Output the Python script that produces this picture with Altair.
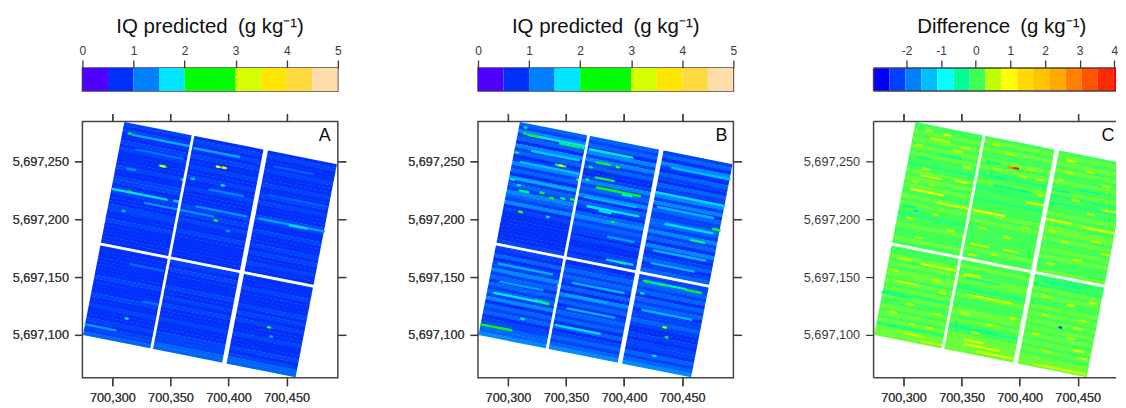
import altair as alt
import pandas as pd

FONT = "Liberation Sans"
INK = "#3a3a3a"
FRAME = "#444444"

x_ticks = [700300, 700350, 700400, 700450]
y_ticks = [5697100, 5697150, 5697200, 5697250]
x_domain = [700274.2, 700494.1]
x_domain_cut = [700274.2, 700482.96]
y_domain = [5697062.8, 5697285.0]

# field frame (metres): north-west corner, "along" and "across" vectors
corner = (700310.3, 5697284.4)
along = (183.0, -36.6)
across = (-35.6, -184.4)

iq_breaks = [0, 0.5, 1, 1.5, 2, 3, 3.5, 4, 4.5, 5]
iq_mids = [0.25, 0.75, 1.25, 1.75, 2.5, 3.25, 3.75, 4.25, 4.75]
iq_colors = ["#5000FF", "#0030FA", "#0080FF", "#00E5FF", "#00FF00", "#D4FF00", "#FFE500", "#FFD940", "#FFDDAA"]
iq_ticks = [0, 1, 2, 3, 4, 5]

diff_breaks = [-2.95, -2.49, -2.03, -1.57, -1.11, -0.64, -0.18, 0.28, 0.74, 1.20, 1.66, 2.12, 2.59, 3.05, 3.51, 3.97, 4.43]
diff_mids = [-2.72, -2.26, -1.80, -1.34, -0.88, -0.41, 0.05, 0.51, 0.97, 1.43, 1.89, 2.35, 2.82, 3.28, 3.74, 4.20]
diff_colors = ["#0000FF", "#0040FF", "#0080FF", "#00BFFF", "#00FFFF", "#00FF99", "#40FF55", "#BFFF00",
               "#FFFF00", "#FFD900", "#FFC400", "#FFAA00", "#FF8000", "#FF5500", "#FF2A00", "#FF0000"]
diff_ticks = [-2, -1, 0, 1, 2, 3, 4]
diff_end = 4.05

# band levels per row (top to bottom) for the three columns of plots
bands_a = [
    "4343343433" "3343344334" "3334433433" "3333333333" "3334333343" "3433343445",
    "3434343343" "3433433334" "3434334333" "3333343433" "3343343433" "3433344455",
    "3433343334" "3343433344" "3343334343" "3433433343" "3334343433" "3433343455",
]
bands_b = [
    "5464536453" "4645364546" "5463433333" "3334343534" "4645354546" "3545344556",
    "5453646453" "3464546354" "3564544343" "3434334545" "4353645345" "4535345456",
    "4536435435" "4364635445" "5464536434" "5345444545" "3545344543" "3434435456",
]
bands_c = [
    "2232323232" "2123232322" "3232212232" "2232222323" "2332323132" "2323231333",
    "2323223232" "1232122122" "2323222222" "2322323223" "3212322233" "2321233333",
    "2323232232" "2312122323" "2332322323" "2223212132" "3223232323" "2323232333",
]
# value of each band level
iq_levels = [0.5, 0.6, 0.7, 0.75, 0.88, 1.08, 1.3]
diff_levels = [-0.25, -0.12, 0.05, 0.2, 0.35]

# streaks: start, end (percent along), position (percent across), value
streaks_a = [
    (5, 31.6, 5, 1.5), (34, 55, 5.5, 1.45), (7.8, 29.6, 11.3, 1.15), (72, 90, 6.6, 1.05),
    (0.8, 26, 31.3, 1.7), (16.4, 48.5, 34.7, 1.35), (29.5, 32, 31.1, 1.6), (40, 63.5, 31.7, 1.35),
    (44.5, 60.2, 22.8, 1.25), (69.7, 100, 31.5, 1.4), (84, 92, 31.8, 1.7), (5.5, 9, 20.8, 1.35),
    (15.3, 30.8, 63.8, 1.1), (24.5, 31, 79.5, 1.15), (0.3, 14.4, 95, 1.4), (72, 98, 20, 1.05),
    (3, 3.9, 4.7, 2.5), (19.9, 22.6, 16.5, 2.6), (20.6, 21.8, 16.5, 3.3), (45.8, 47.2, 11.8, 3.3),
    (48.5, 50, 11.7, 3.7), (31.1, 32, 20.8, 2.4), (49.7, 50.7, 19.8, 1.8), (49.5, 50.6, 36.3, 2.4),
    (35.5, 36.5, 19.5, 1.6), (8.1, 9.1, 31, 2.3), (17.9, 18.8, 88.7, 1.7), (83.1, 84.1, 79.9, 2.7),
    (85, 85.8, 83.9, 1.5), (7, 8, 40.3, 1.5), (56, 57, 40, 1.4),
]
streaks_b = [
    (5, 31.6, 5, 1.8), (5, 9.5, 5, 2.4), (20, 31, 6, 2.2), (2.9, 3.8, 4.7, 2.5), (2.6, 3.3, 2, 2.0),
    (34, 54, 6, 1.9), (38.3, 44.5, 11.3, 2.35), (47.8, 48.8, 11.6, 2.7), (20, 24.5, 16, 2.1),
    (21.8, 23.1, 16, 3.5), (39.2, 47.6, 18.2, 2.25), (40.6, 61, 22.7, 2.5), (35.6, 36.6, 14, 2.2),
    (35.2, 36.1, 20, 2.3), (31.1, 32, 20.8, 2.8), (0.9, 1.9, 14.1, 2.2), (1, 2.4, 26.6, 2),
    (4.5, 5.6, 28.6, 2.0), (6, 10, 31, 2.2), (15.5, 17, 30, 2.4), (20.4, 21.7, 31.6, 2.5),
    (30, 31.6, 30.3, 2.6), (25.5, 27, 30.7, 2.0), (7.6, 8.8, 40.6, 2.7), (20.6, 21.4, 40.4, 1.8),
    (50.4, 51.4, 36.8, 2.4), (97, 100, 31, 2.4), (88, 94, 38, 2.1), (68, 100, 19.5, 1.7),
    (75, 97, 33, 1.7), (73, 100, 7, 1.55), (38, 62, 32, 1.75), (44, 49, 33, 1.9), (53, 57, 23.5, 1.8),
    (8, 30, 12, 1.6), (4, 31, 18, 1.55), (3, 30, 26, 1.5), (36, 60, 28, 1.5), (70, 96, 26, 1.5),
    (0.3, 14.4, 95, 2.5), (3.4, 28.5, 79.6, 1.8), (28, 29, 79.8, 2.4), (23, 26, 79.3, 2.1),
    (34.2, 54.7, 88.6, 1.7), (70.1, 89.7, 60.7, 2.0), (70.5, 73, 60.7, 2.4), (77, 80, 60.8, 2.2),
    (90, 97, 61, 2.4), (70, 71, 66.5, 2.0), (83.1, 84.2, 79.9, 3.1), (85, 85.8, 84.2, 2.2),
    (18, 19, 88.8, 1.9), (51.5, 63.5, 54.4, 1.7), (58, 59.5, 54.6, 2.2), (81, 82, 93.7, 1.8),
    (31.5, 32.2, 70.7, 2), (3, 28, 66, 1.5), (38, 62, 68, 1.5), (38, 60, 80, 1.5), (72, 95, 74, 1.5),
    (36, 55, 74, 1.45), (5, 25, 74, 1.4), (72, 92, 52, 1.5), (72, 96, 46, 1.5), (50, 62, 44, 1.4),
]
streaks_c = [
    (3.7, 18.8, 30.7, 0.95), (17.1, 32.8, 34.5, 0.7), (34.3, 48.5, 34.5, 0.8), (46.2, 48.2, 12, 2.8),
    (48.8, 50.6, 11.9, 3.9), (7.5, 10.5, 20.3, 0.7), (7, 16.5, 23.6, 0.6), (24, 29, 23, 0.7),
    (8.5, 17, 6, 0.55), (57.6, 66, 26.2, 0.7), (68.2, 79.4, 32, 0.8), (85, 100, 32.5, 0.7),
    (93, 100, 23, 0.6), (72.3, 76, 9, 0.6), (71.9, 76, 3.7, 0.6),
    (12.9, 24, 12.6, -0.3), (35.9, 42, 11.4, -0.3), (38.8, 46, 17.8, -0.35), (41.2, 58.2, 21.6, -0.4),
    (4.8, 10, 15.5, -0.3), (2.3, 7, 38.7, -0.4), (7.7, 8.5, 40.2, -1.2), (68.7, 76, 18.3, -0.3),
    (80, 90, 16, -0.3),
    (15.2, 30.8, 63.7, 0.7), (4.8, 10, 63, 0.6), (6.1, 14.8, 73.5, 0.6), (35.5, 42.8, 64.4, 0.7),
    (39, 59.5, 73.4, 0.6), (13.8, 22, 96.5, 0.6), (22, 31.6, 98.6, 0.6), (41.6, 50, 94, 0.75),
    (42, 58, 96, 0.7), (48, 64.6, 98.3, 0.75), (75, 99, 98.8, 0.65), (75, 76.5, 75.6, 0.7),
    (90, 93, 79, 0.6), (83.3, 84, 79.9, -2.4), (92, 96, 89, 0.6), (15.5, 17, 91.8, 0.7),
    (5, 8.5, 94.5, -0.4), (0, 12, 80, -0.3), (34, 55, 88.5, -0.3), (37, 52, 66, -0.25),
    (72, 90, 60.5, -0.3), (51.5, 58, 49.8, 0.55), (36, 44, 50, 0.55),
    (6, 8, 2.5, 0.5), (14, 17, 3, 0.6), (24, 27, 7, 0.55), (3, 5, 10, 0.5), (20, 24, 9.5, 0.6),
    (37, 40, 3, 0.55), (44, 47, 6, 0.55), (55, 58, 11, 0.6), (60, 63, 15, 0.5), (40, 43, 14, 0.55),
    (52, 55, 15, 0.6), (62, 64, 22, 0.55), (12, 14, 27, 0.5), (26, 29, 16, 0.55), (4, 6, 27, 0.5),
    (70, 72, 13, 0.55), (82, 85, 7, 0.5), (91, 94, 12, 0.55), (78, 81, 21, 0.5), (86, 89, 26, 0.6),
    (70, 73, 37, 0.55), (77, 80, 41, 0.5), (90, 94, 38, 0.55), (84, 87, 48, 0.55), (96, 99, 43, 0.5),
    (72, 75, 52, 0.55), (5, 8, 44, 0.5), (16, 18, 40, 0.55), (24, 27, 46, 0.5), (10, 13, 52, 0.5),
    (38, 41, 42, 0.5), (50, 53, 44, 0.55), (58, 60, 38, 0.5), (46, 48, 53, 0.5), (36, 39, 55, 0.55),
    (22, 25, 70, 0.55), (2, 5, 69, 0.5), (26, 29, 75, 0.5), (12, 15, 83, 0.55), (25, 28, 85, 0.5),
    (5, 8, 88, 0.5), (23, 26, 92, 0.6), (38, 41, 82, 0.55), (50, 54, 85, 0.5), (60, 63, 80, 0.5),
    (44, 47, 90, 0.55), (73, 76, 67, 0.55), (85, 88, 69, 0.5), (95, 98, 66, 0.55), (72, 75, 85, 0.55),
    (88, 91, 84, 0.5), (78, 81, 92, 0.6), (95, 98, 92, 0.55), (92, 95, 75, 0.5),
]
panel_labels = ["A", "B", "C"]
titles = ["IQ predicted\u2002(g kg\u207b\u00b9)", "IQ predicted\u2002(g kg\u207b\u00b9)", "Difference\u2002(g kg\u207b\u00b9)"]

# gaps between plots: percent along start/end, percent across start/end
thin_gaps = [(32.3, 32.3, -1, 101), (-1, 101, 57.3, 57.3)]
wide_gaps = [(66.5, 66.5, -1, 101)]


def to_map(u, v):
    return (corner[0] + u / 100 * along[0] + v / 100 * across[0],
            corner[1] + u / 100 * along[1] + v / 100 * across[1])


def seg(u0, u1, v0, v1, val=0.0):
    a = to_map(u0, v0)
    b = to_map(u1, v1)
    return {"x": a[0], "y": a[1], "x2": b[0], "y2": b[1], "val": val}


def band_table(bands, levels):
    rows = []
    spans = [(0, 33.3), (32.0, 67.0), (66.0, 100)]
    for (u0, u1), text in zip(spans, bands):
        for i, ch in enumerate(text):
            v = (i + 0.5) * 100 / len(text)
            rows.append(seg(u0, u1, v, v, levels[int(ch)]))
    return pd.DataFrame(rows)


y_scale = alt.Scale(domain=y_domain, nice=False, zero=False)
axis_common = dict(grid=False, domain=False, tickColor=INK, tickWidth=1.3, tickSize=8,
                   labelFont=FONT, labelFontSize=12.7, labelColor=INK, title=None, labelOverlap=False)
x_bottom = alt.Axis(orient="bottom", values=x_ticks, format=",.0f", labelPadding=6, labelFlush=False, **axis_common)
y_left = alt.Axis(orient="left", values=y_ticks, format=",.0f", labelPadding=6, **axis_common)
x_top = alt.Axis(orient="top", values=x_ticks, labels=False, **axis_common)
y_right = alt.Axis(orient="right", values=y_ticks, labels=False, **axis_common)


def open_frame(width, height):
    """Frame with no right-hand side: the panel runs off the page."""
    base = alt.Chart(pd.DataFrame({"k": [0]})).mark_rule(color=FRAME, strokeWidth=1.5)
    return [
        base.encode(x=alt.value(0), y=alt.value(0), y2=alt.value(height)),
        base.encode(x=alt.value(0), x2=alt.value(width), y=alt.value(0)),
        base.encode(x=alt.value(0), x2=alt.value(width), y=alt.value(height)),
    ]


def rule_layer(df, width, color_enc, x_scale, xa, ya, cap="butt"):
    return alt.Chart(df).mark_rule(strokeWidth=width, strokeCap=cap, clip=True).encode(
        x=alt.X("x:Q", scale=x_scale, axis=xa),
        y=alt.Y("y:Q", scale=y_scale, axis=ya),
        x2="x2:Q", y2="y2:Q", color=color_enc, order=alt.Order("idx:Q"))


def map_panel(bands, streaks, levels, mids, colors, label, streak_width, domain, width, label_x, cut=False):
    x_scale = alt.Scale(domain=domain, nice=False, zero=False)
    color = alt.Color("val:Q", legend=None,
                      scale=alt.Scale(domain=mids, range=colors, clamp=True, interpolate="rgb"))
    base = band_table(bands, levels).reset_index(names="idx")
    marks = pd.DataFrame([seg(a, b, v, v, val) for a, b, v, val in streaks]).reset_index(names="idx")
    thin = pd.DataFrame([seg(*g) for g in thin_gaps]).reset_index(names="idx")
    wide = pd.DataFrame([seg(*g) for g in wide_gaps]).reset_index(names="idx")
    white = alt.value("white")
    txt = alt.Chart(pd.DataFrame({"t": [label]})).mark_text(
        font=FONT, fontSize=18, color="#111111").encode(
        text="t:N", x=alt.value(label_x), y=alt.value(15))
    gap_y = y_left if cut else y_right
    layers = [
        rule_layer(base, 4.0, color, x_scale, x_bottom, y_left),
        rule_layer(marks, streak_width, color, x_scale, x_bottom, y_left, cap="round"),
        rule_layer(thin, 2.8, white, x_scale, x_top, gap_y),
        rule_layer(wide, 4.6, white, x_scale, x_top, gap_y),
        txt,
    ]
    if cut:
        layers += open_frame(width, 257)
        return alt.layer(*layers).properties(width=width, height=257, view=alt.ViewBackground(stroke=None))
    return alt.layer(*layers).properties(width=width, height=257)


def bar_panel(breaks, mids, colors, ticks, title, lo, hi, width, dx=0, cut=False):
    df = pd.DataFrame({"a": breaks[:-1], "b": breaks[1:], "mid": mids})
    scale = alt.Scale(domain=[lo, hi], nice=False, zero=False)
    bar_axis = alt.Axis(orient="top", values=ticks, labelExpr="datum.value + ''", labelPadding=3,
                        labelFlush=False, **{**axis_common, "labelFontSize": 12})
    rect = alt.Chart(df).mark_rect(clip=True).encode(
        x=alt.X("a:Q", scale=scale, axis=bar_axis),
        x2="b:Q",
        color=alt.Color("mid:N", legend=None, sort=None, scale=alt.Scale(domain=mids, range=colors)),
    )
    heading = alt.TitleParams(title, font=FONT, fontSize=20.5, fontWeight="normal", color="#111111",
                              anchor="middle", offset=6.7, dx=dx)
    if cut:
        return alt.layer(rect, *open_frame(width, 23)).properties(
            title=heading, width=width, height=23, view=alt.ViewBackground(stroke=None))
    return rect.properties(title=heading, width=width, height=23)


cells = [
    bar_panel(iq_breaks, iq_mids, iq_colors, iq_ticks, titles[0], 0, 5, 256),
    bar_panel(iq_breaks, iq_mids, iq_colors, iq_ticks, titles[1], 0, 5, 256),
    bar_panel(diff_breaks, diff_mids, diff_colors, diff_ticks, titles[2], diff_breaks[0], diff_end, 243, dx=7, cut=True),
    map_panel(bands_a, streaks_a, iq_levels, iq_mids, iq_colors, panel_labels[0], 2.4, x_domain, 256, 243),
    map_panel(bands_b, streaks_b, iq_levels, iq_mids, iq_colors, panel_labels[1], 2.4, x_domain, 256, 244),
    map_panel(bands_c, streaks_c, diff_levels, diff_mids, diff_colors, panel_labels[2], 2.2, x_domain_cut, 243, 235, cut=True),
]

chart = alt.concat(*cells, columns=3, spacing={"row": 30.5, "column": 140.5}, bounds="flush").resolve_scale(
    color="independent"
).properties(padding={"left": 2.6, "top": 7.7, "right": 0, "bottom": 0}).configure_view(
    stroke=FRAME, strokeWidth=1.5
)

chart.save("out.html", embed_options={"renderer": "svg", "actions": False})
